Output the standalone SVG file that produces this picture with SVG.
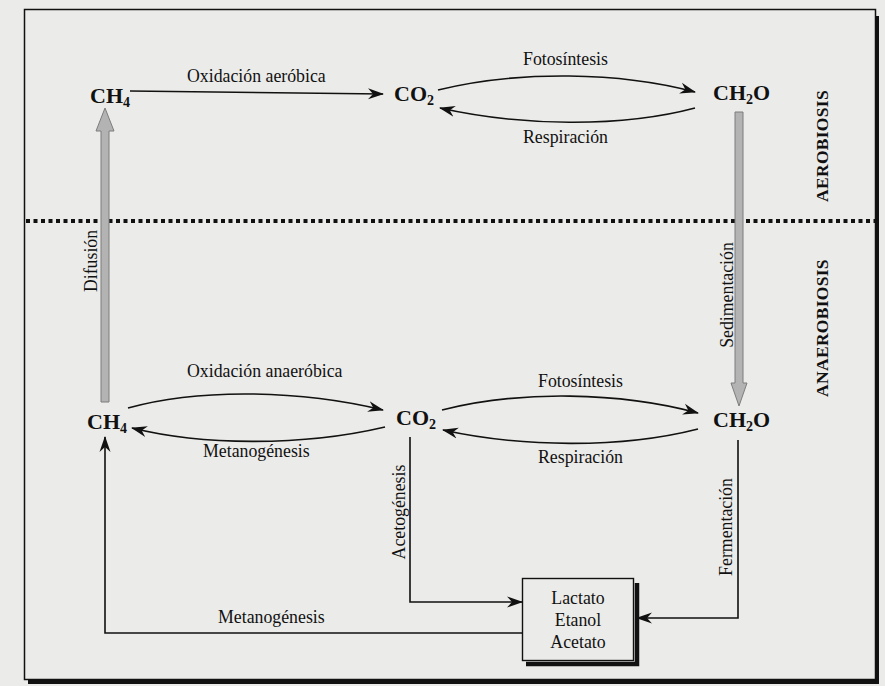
<svg xmlns="http://www.w3.org/2000/svg" width="885" height="686" viewBox="0 0 885 686">
  <defs>
    <marker id="head" markerUnits="userSpaceOnUse" markerWidth="18" markerHeight="12" refX="15" refY="6" orient="auto">
      <path d="M0,0.5 L16,6 L0,11.5 L5,6 Z" fill="#111"/>
    </marker>
    <style>
      .lbl { font-family: "Liberation Serif", "Times New Roman", serif; font-size: 17.8px; fill: #111; }
      .chem { font-family: "Liberation Serif", "Times New Roman", serif; font-size: 22px; font-weight: bold; fill: #111; }
      .sub { font-size: 14px; }
      .zone { font-family: "Liberation Serif", "Times New Roman", serif; font-size: 17.5px; font-weight: bold; fill: #111; letter-spacing: 0.3px; }
      .flow { fill: none; stroke: #111; stroke-width: 1.6; }
      .gray { fill: #b3b3b3; stroke: #7d7d7d; stroke-width: 1; }
    </style>
  </defs>

  <!-- page -->
  <rect x="0" y="0" width="885" height="686" fill="#ebebe9"/>

  <!-- frame with drop shadow -->
  <path d="M877,16 L877,682 L28,682" fill="none" stroke="#111" stroke-width="4"/>
  <rect x="24.5" y="9.5" width="851" height="670" fill="none" stroke="#111" stroke-width="1.5"/>

  <!-- aerobic / anaerobic boundary -->
  <line x1="26" y1="221" x2="875" y2="221" stroke="#111" stroke-width="4" stroke-dasharray="4 3.5"/>

  <!-- connectors -->
  <g id="connectors">
    <path class="flow" d="M130,91 L383,94" marker-end="url(#head)"/>
    <path class="flow" d="M438,90 C520,70 620,72 695,92" marker-end="url(#head)"/>
    <path class="flow" d="M695,108 C620,128 520,126 440,108" marker-end="url(#head)"/>

    <path class="flow" d="M128,408 C200,388 300,390 383,410" marker-end="url(#head)"/>
    <path class="flow" d="M385,427 C300,447 200,445 132,428" marker-end="url(#head)"/>
    <path class="flow" d="M442,410 C520,390 620,392 698,413" marker-end="url(#head)"/>
    <path class="flow" d="M698,429 C620,449 520,447 443,430" marker-end="url(#head)"/>

    <path class="flow" d="M738,440 L738,618 L637,618" marker-end="url(#head)"/>
    <path class="flow" d="M410,437 L410,602 L522,602" marker-end="url(#head)"/>
    <path class="flow" d="M522,633 L105,633 L105,437" marker-end="url(#head)"/>

    <!-- broad transport arrows -->
    <polygon class="gray" points="101,402 109,402 109,131 114,131 105,108 96,131 101,131"/>
    <polygon class="gray" points="735,112 743,112 743,383 747,383 739,406 731,383 735,383"/>
  </g>

  <!-- process labels -->
  <g id="labels">
    <text class="lbl" x="187" y="82">Oxidación aeróbica</text>
    <text class="lbl" x="523" y="65">Fotosíntesis</text>
    <text class="lbl" x="523" y="143">Respiración</text>
    <text class="lbl" x="187" y="377">Oxidación anaeróbica</text>
    <text class="lbl" x="203" y="457">Metanogénesis</text>
    <text class="lbl" x="538" y="387">Fotosíntesis</text>
    <text class="lbl" x="538" y="463">Respiración</text>
    <text class="lbl" x="218" y="623">Metanogénesis</text>
    <text class="lbl" text-anchor="middle" transform="translate(97,261) rotate(-90)">Difusión</text>
    <text class="lbl" text-anchor="middle" transform="translate(733,295) rotate(-90)">Sedimentación</text>
    <text class="lbl" text-anchor="middle" transform="translate(732,527) rotate(-90)">Fermentación</text>
    <text class="lbl" text-anchor="middle" transform="translate(405,512) rotate(-90)">Acetogénesis</text>
    <text class="zone" text-anchor="middle" transform="translate(828,146) rotate(-90)">AEROBIOSIS</text>
    <text class="zone" text-anchor="middle" transform="translate(828,328) rotate(-90)">ANAEROBIOSIS</text>
  </g>

  <!-- compounds -->
  <g id="ch4-aer"><text class="chem" x="90" y="103">CH<tspan class="sub" dy="4">4</tspan></text></g>
  <g id="co2-aer"><text class="chem" x="394" y="101">CO<tspan class="sub" dy="4">2</tspan></text></g>
  <g id="ch2o-aer"><text class="chem" x="713" y="100">CH<tspan class="sub" dy="4">2</tspan><tspan dy="-4">O</tspan></text></g>

  <g id="ch4-ana"><text class="chem" x="87" y="429">CH<tspan class="sub" dy="4">4</tspan></text></g>
  <g id="co2-ana"><text class="chem" x="396" y="425">CO<tspan class="sub" dy="4">2</tspan></text></g>
  <g id="ch2o-ana"><text class="chem" x="713" y="427">CH<tspan class="sub" dy="4">2</tspan><tspan dy="-4">O</tspan></text></g>

  <!-- fermentation products -->
  <g id="products">
    <path d="M637,583 L637,664 L526,664" fill="none" stroke="#111" stroke-width="4.5"/>
    <rect x="522.5" y="578.5" width="111" height="82" fill="#ebebe9" stroke="#111" stroke-width="1.4"/>
    <text class="lbl" x="578" y="604" text-anchor="middle">Lactato</text>
    <text class="lbl" x="578" y="626" text-anchor="middle">Etanol</text>
    <text class="lbl" x="578" y="648" text-anchor="middle">Acetato</text>
  </g>
</svg>
